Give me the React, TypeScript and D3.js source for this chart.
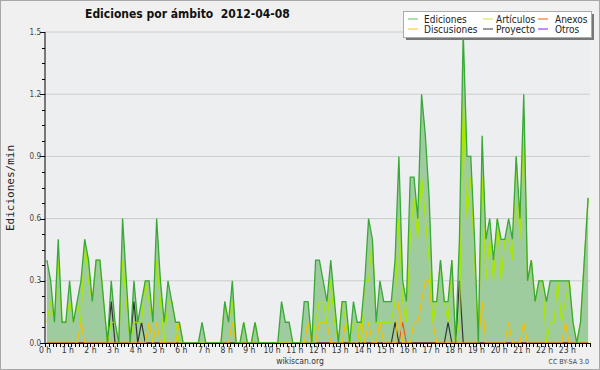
import React from "react";
import * as d3 from "d3";

// edits per minute, one value per 10-minute bucket, six per hour (0 h .. 23 h)
const ediciones = [
  0.4, 0.3, 0.1, 0.5, 0.1, 0.1,  0.3, 0.1, 0.2, 0.3, 0.5, 0.4,  0.2, 0.4, 0.4, 0.2, 0, 0.3,  0.1, 0, 0.6, 0.3, 0, 0.3,
  0.1, 0.2, 0.3, 0.3, 0.1, 0.6,  0.3, 0.1, 0.3, 0.2, 0.1, 0.1,  0, 0, 0, 0, 0, 0.1,  0, 0, 0, 0, 0, 0.2,
  0.1, 0.3, 0, 0, 0.1, 0,  0, 0.1, 0, 0, 0, 0,  0, 0, 0.2, 0.1, 0.1, 0,  0, 0, 0.2, 0.2, 0, 0.4,
  0.4, 0.3, 0.2, 0.4, 0.2, 0,  0.2, 0.2, 0, 0.2, 0.1, 0.1,  0.3, 0.6, 0.5, 0.1, 0.3, 0.2,  0.2, 0.2, 0.4, 0.9, 0.3, 0.2,
  0.8, 0.8, 0.6, 1.2, 1.0, 0.7,  0.2, 0.2, 0.4, 0.2, 0.2, 0.4,  0, 0.5, 1.5, 0.9, 0.9, 0.5,  0, 1.0, 0.5, 0.6, 0.4, 0.6,
  0.5, 0.5, 0.6, 0.5, 0.9, 0.6,  1.2, 0.3, 0.4, 0.2, 0.3, 0.3,  0.2, 0.3, 0.3, 0.3, 0.3, 0.3,  0.3, 0.1, 0, 0.1, 0.4, 0.7,
];

const articulos = [
  0.1, 0.2, 0.1, 0.4, 0.1, 0.1,  0.2, 0.1, 0.2, 0.1, 0.5, 0.3,  0.2, 0.4, 0.4, 0.2, 0, 0.1,  0.1, 0, 0.4, 0.2, 0, 0.1,
  0.1, 0.1, 0.3, 0.2, 0.1, 0.4,  0.2, 0, 0.2, 0.2, 0.1, 0,  0, 0, 0, 0, 0, 0,  0, 0, 0, 0, 0, 0.2,
  0.1, 0.2, 0, 0, 0.1, 0,  0, 0.1, 0, 0, 0, 0,  0, 0, 0, 0, 0, 0,  0, 0, 0, 0, 0, 0.1,
  0.2, 0.2, 0.1, 0.3, 0.1, 0,  0.2, 0.1, 0, 0.1, 0.1, 0,  0.3, 0.3, 0.5, 0.1, 0.1, 0.1,  0.1, 0.1, 0.2, 0.6, 0.2, 0.1,
  0.5, 0.7, 0.5, 0.8, 0.6, 0.4,  0.1, 0.2, 0.4, 0.2, 0.1, 0.4,  0, 0.1, 1.2, 0.6, 0.8, 0.4,  0, 0.8, 0.3, 0.5, 0.3, 0.6,
  0.3, 0.5, 0.5, 0.4, 0.9, 0.5,  1.1, 0.3, 0.4, 0.2, 0.3, 0.3,  0, 0.1, 0.1, 0.3, 0.1, 0.2,  0.3, 0.1, 0, 0.1, 0.4, 0.7,
];

const discusiones = [
  0, 0, 0, 0, 0, 0,  0, 0, 0, 0.1, 0, 0,  0, 0, 0, 0, 0, 0,  0, 0, 0, 0, 0, 0,
  0, 0, 0, 0.1, 0, 0.1,  0, 0, 0, 0, 0, 0.1,  0, 0, 0, 0, 0, 0,  0, 0, 0, 0, 0, 0,
  0, 0.1, 0, 0, 0, 0,  0, 0, 0, 0, 0, 0,  0, 0, 0, 0, 0, 0,  0, 0, 0, 0.1, 0, 0,
  0.1, 0.1, 0.1, 0, 0, 0,  0, 0.1, 0, 0, 0, 0.1,  0, 0.1, 0, 0, 0.1, 0,  0, 0, 0, 0.2, 0, 0,
  0, 0.1, 0.1, 0.2, 0.3, 0.3,  0.1, 0, 0, 0, 0, 0,  0, 0, 0, 0, 0, 0,  0, 0.2, 0, 0, 0, 0,
  0, 0, 0.1, 0, 0, 0,  0.1, 0, 0, 0, 0, 0,  0, 0, 0, 0, 0, 0.1,  0, 0, 0, 0, 0, 0,
];

const proyecto = [
  0, 0, 0, 0, 0, 0,  0, 0, 0, 0, 0, 0,  0, 0, 0, 0, 0, 0.2,  0, 0, 0, 0, 0, 0.2,
  0, 0.1, 0, 0, 0, 0,  0, 0, 0, 0, 0, 0,  0, 0, 0, 0, 0, 0,  0, 0, 0, 0, 0, 0,
  0, 0, 0, 0, 0, 0,  0, 0, 0, 0, 0, 0,  0, 0, 0, 0, 0, 0,  0, 0, 0, 0, 0, 0,
  0, 0, 0, 0, 0, 0,  0, 0, 0, 0, 0, 0,  0, 0, 0, 0, 0, 0,  0, 0, 0.1, 0, 0, 0,
  0, 0, 0, 0, 0, 0,  0, 0, 0, 0, 0.1, 0,  0, 0.3, 0, 0, 0, 0,  0, 0, 0, 0, 0, 0,
  0, 0, 0, 0, 0, 0,  0, 0, 0, 0, 0, 0,  0, 0, 0, 0, 0, 0,  0, 0, 0, 0, 0, 0,
];

const anexos = [
  0, 0, 0, 0, 0, 0,  0, 0, 0, 0, 0, 0,  0, 0, 0, 0, 0, 0,  0, 0, 0, 0, 0, 0,
  0, 0, 0, 0, 0, 0,  0, 0, 0, 0, 0, 0,  0, 0, 0, 0, 0, 0,  0, 0, 0, 0, 0, 0,
  0, 0, 0, 0, 0, 0,  0, 0, 0, 0, 0, 0,  0, 0, 0, 0, 0, 0,  0, 0, 0, 0, 0, 0,
  0, 0, 0, 0, 0, 0,  0, 0, 0, 0, 0, 0,  0, 0, 0, 0, 0, 0,  0, 0, 0, 0, 0.1, 0,
  0, 0, 0, 0, 0, 0,  0, 0, 0, 0, 0, 0,  0, 0, 0, 0, 0, 0,  0, 0, 0, 0, 0, 0,
  0, 0, 0, 0, 0, 0,  0, 0, 0, 0, 0, 0,  0, 0, 0, 0, 0, 0,  0, 0, 0, 0, 0, 0,
];

const otros = new Array(144).fill(0);

const horas = d3.range(24);
const yTicks = [0, 0.3, 0.6, 0.9, 1.2, 1.5];

const legend = [
  { name: "Ediciones", color: "#77cc77" },
  { name: "Artículos", color: "#ccee55" },
  { name: "Anexos", color: "#ee7744" },
  { name: "Discusiones", color: "#ffcc44" },
  { name: "Proyecto", color: "#555555" },
  { name: "Otros", color: "#9944ee" },
];

const SANS = "'DejaVu Sans Condensed', 'DejaVu Sans', sans-serif";

export default function App() {
  const x = d3.scaleLinear().domain([0, 1440]).range([45, 590]);
  const y = d3.scaleLinear().domain([0, 1.5]).range([343, 32]);
  const t = (i: number) => i * 10 + 5;

  const area = d3.area<number>().x((d, i) => x(t(i))).y0(y(0)).y1((d) => y(d));
  const line = d3.line<number>().x((d, i) => x(t(i))).y((d) => y(d));

  const lines = [
    { data: otros, color: "#9944ee" },
    { data: anexos, color: "#ee5522" },
    { data: proyecto, color: "#333333" },
    { data: discusiones, color: "#f5c000" },
    { data: articulos, color: "#a8e800" },
  ];

  const minorY = d3.range(0, 1.5001, 0.075).filter((v) => Math.abs(v / 0.3 - Math.round(v / 0.3)) > 0.01);
  const minorX = d3.range(0, 1441, 10);

  return (
    <svg width={600} height={370} style={{ position: "absolute", left: 0, top: 0 }}>
      <rect x={0} y={0} width={600} height={370} fill="#f0f0f0" />
      <rect x={0.5} y={0.5} width={599} height={369} fill="none" stroke="#a8a8a8" />
      <rect x={x(0)} y={y(1.5)} width={x(1440) - x(0)} height={y(0) - y(1.5)} fill="#edeef0" />

      {yTicks.slice(1).map((v) => (
        <line key={v} x1={x(0)} x2={x(1440)} y1={y(v)} y2={y(v)} stroke="#cccccc" />
      ))}

      <path d={area(ediciones) || ""} fill="#9fcc9f" />
      {lines.map((s, k) => (
        <path key={k} d={line(s.data) || ""} fill="none" stroke={s.color} strokeWidth={1.2} />
      ))}
      <path d={line(ediciones) || ""} fill="none" stroke="#38a838" strokeWidth={1.3} />

      {/* axes */}
      <line x1={x(0)} x2={x(0)} y1={y(1.5)} y2={y(0)} stroke="#000" />
      <line x1={x(0)} x2={x(1440)} y1={y(0) + 0.5} y2={y(0) + 0.5} stroke="#000" />
      {minorY.map((v) => (
        <line key={v} x1={x(0) - 3} x2={x(0)} y1={Math.round(y(v)) + 0.5} y2={Math.round(y(v)) + 0.5} stroke="#000" />
      ))}
      {yTicks.map((v) => (
        <g key={v}>
          <line x1={x(0) - 5} x2={x(0)} y1={Math.round(y(v)) + 0.5} y2={Math.round(y(v)) + 0.5} stroke="#000" />
          <text x={x(0) - 4} y={y(v) + 2.5} textAnchor="end" fontFamily={SANS} fontSize={8} fill="#444">
            {v.toFixed(1)}
          </text>
        </g>
      ))}
      {minorX.map((m) => (
        <line key={m} x1={Math.round(x(m)) + 0.5} x2={Math.round(x(m)) + 0.5} y1={y(0)} y2={y(0) + 4} stroke="#000" />
      ))}
      {horas.map((h) => (
        <text key={h} x={x(h * 60)} y={353} textAnchor="middle" fontFamily={SANS} fontSize={8.5} fill="#333">
          {`${h} h`}
        </text>
      ))}

      <text x={10} y={188} transform="rotate(-90 10 188)" textAnchor="middle" dominantBaseline="central"
        fontFamily="'DejaVu Sans Mono', monospace" fontSize={11} fill="#222">
        Ediciones/min
      </text>

      <text x={85} y={18} fontFamily={SANS} fontWeight="bold" fontSize={12} fill="#111">
        Ediciones por ámbito{"\u00a0\u00a0"}2012-04-08
      </text>

      {/* legend */}
      <rect x={406} y={14} width={188} height={26} fill="#777" />
      <rect x={403.5} y={11.5} width={188} height={26} fill="#fff" stroke="#aaa" />
      {legend.map((l, k) => {
        const col = k % 3;
        const row = Math.floor(k / 3);
        const sx = [408, 483, 538][col];
        const tx = [424, 496, 555][col];
        const by = 22.5 + row * 10;
        return (
          <g key={l.name}>
            <line x1={sx} x2={sx + 10} y1={by - 3.5} y2={by - 3.5} stroke={l.color} strokeWidth={1.2} />
            <text x={tx} y={by} fontFamily={SANS} fontSize={10} fill="#222">{l.name}</text>
          </g>
        );
      })}

      <text x={300} y={364} textAnchor="middle" fontFamily={SANS} fontSize={8.5} fill="#333">wikiscan.org</text>
      <text x={589} y={364} textAnchor="end" fontFamily={SANS} fontSize={7} fill="#444">CC BY-SA 3.0</text>
    </svg>
  );
}
